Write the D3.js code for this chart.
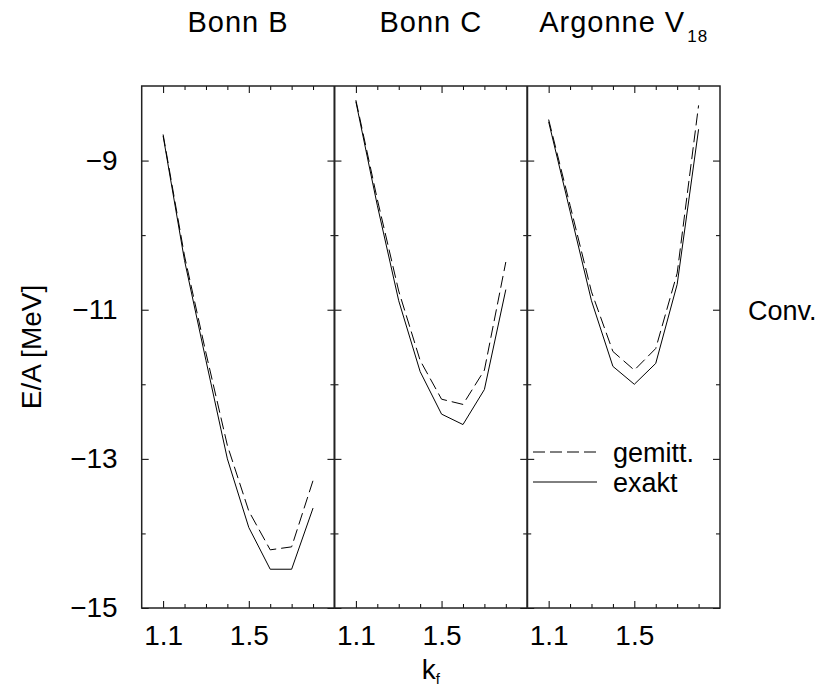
<!DOCTYPE html>
<meta charset="utf-8">
<style>
body { margin: 0; background: #fff; }
svg text { font-family: "Liberation Sans", Arial, Helvetica, sans-serif; fill: #000; }
.axis text { font-size: 28px; }
.axis line { stroke: #000; stroke-width: 1; }
.curve { fill: none; stroke: #000; stroke-width: 1; }
</style>
<svg width="817" height="688"></svg>
<script src="https://d3js.org/d3.v7.min.js"></script>
<script>
// k_f grid
const kf = [1.1, 1.2, 1.3, 1.4, 1.5, 1.6, 1.7, 1.8];

// E/A [MeV], exakt (solid) and gemitt. (dashed) for each potential
const bonnB_exakt  = [-8.67, -10.34, -11.68, -13.00, -13.92, -14.48, -14.48, -13.66];
const bonnB_gemitt = [-8.65, -10.28, -11.58, -12.82, -13.70, -14.22, -14.18, -13.29];
const bonnC_exakt  = [-8.21, -9.60, -10.88, -11.83, -12.40, -12.54, -12.07, -10.73];
const bonnC_gemitt = [-8.19, -9.52, -10.75, -11.68, -12.20, -12.27, -11.81, -10.36];
const av18_exakt   = [-8.48, -9.68, -10.88, -11.76, -12.00, -11.72, -10.66, -8.58];
const av18_gemitt  = [-8.45, -9.60, -10.76, -11.56, -11.81, -11.52, -10.51, -8.26];

const panelNames = ["Bonn B", "Bonn C", "Argonne V"];
const panelSubs  = ["", "", "18"];
const exakt  = [bonnB_exakt, bonnC_exakt, av18_exakt];
const gemitt = [bonnB_gemitt, bonnC_gemitt, av18_gemitt];

const xMajor = [1.1, 1.5];
const xMinor = [1.2, 1.3, 1.4, 1.6, 1.7, 1.8];
const yMajor = [-9, -11, -13, -15];
const yMinor = [-10, -12, -14];

const svg = d3.select("svg");
const mLeft = 141.7, mRight = 720, mTop = 86, mBottom = 608;
const pw = (mRight - mLeft) / 3;
const dash = "12,5";

const y = d3.scaleLinear().domain([-15, -8]).range([mBottom, mTop]);

for (let p = 0; p < 3; p++) {
  const x0 = mLeft + p * pw;
  const x = d3.scaleLinear().domain([1.0, 1.9]).range([x0, x0 + pw]);
  const g = svg.append("g");

  // bottom ticks + labels
  g.append("g").attr("class", "axis").attr("transform", "translate(0," + mBottom + ")")
    .call(d3.axisBottom(x).tickValues(xMajor).tickSizeInner(-7).tickSizeOuter(0).tickPadding(17).tickFormat(d3.format(".1f")));
  g.append("g").attr("class", "axis").attr("transform", "translate(0," + mBottom + ")")
    .call(d3.axisBottom(x).tickValues(xMinor).tickSizeInner(-4).tickSizeOuter(0).tickFormat(""));
  // top ticks
  g.append("g").attr("class", "axis").attr("transform", "translate(0," + mTop + ")")
    .call(d3.axisTop(x).tickValues(xMajor).tickSizeInner(-7).tickSizeOuter(0).tickFormat(""));
  g.append("g").attr("class", "axis").attr("transform", "translate(0," + mTop + ")")
    .call(d3.axisTop(x).tickValues(xMinor).tickSizeInner(-4).tickSizeOuter(0).tickFormat(""));

  // left ticks (labels only on first panel)
  g.append("g").attr("class", "axis").attr("transform", "translate(" + x0 + ",0)")
    .call(d3.axisLeft(y).tickValues(yMajor).tickSizeInner(-7).tickSizeOuter(0).tickPadding(24)
      .tickFormat(p === 0 ? d3.format("d") : ""));
  g.append("g").attr("class", "axis").attr("transform", "translate(" + x0 + ",0)")
    .call(d3.axisLeft(y).tickValues(yMinor).tickSizeInner(-4).tickSizeOuter(0).tickFormat(""));
  // right ticks
  g.append("g").attr("class", "axis").attr("transform", "translate(" + (x0 + pw) + ",0)")
    .call(d3.axisRight(y).tickValues(yMajor).tickSizeInner(-7).tickSizeOuter(0).tickFormat(""));
  g.append("g").attr("class", "axis").attr("transform", "translate(" + (x0 + pw) + ",0)")
    .call(d3.axisRight(y).tickValues(yMinor).tickSizeInner(-4).tickSizeOuter(0).tickFormat(""));

  g.selectAll(".domain").remove();

  const line = d3.line().x((d, i) => x(kf[i])).y(d => y(d));
  g.append("path").attr("class", "curve").attr("stroke-dasharray", dash).attr("d", line(gemitt[p]));
  g.append("path").attr("class", "curve").attr("d", line(exakt[p]));

  // panel title
  const t = svg.append("text").attr("x", x0 + pw / 2).attr("y", 32)
    .attr("text-anchor", "middle").attr("font-size", 29).attr("letter-spacing", 1).text(panelNames[p]);
  if (panelSubs[p]) {
    t.append("tspan").attr("font-size", 17).attr("dy", 10).attr("dx", 2).text(panelSubs[p]);
  }
}

// frame
svg.append("rect").attr("x", mLeft).attr("y", mTop).attr("width", mRight - mLeft).attr("height", mBottom - mTop)
  .attr("fill", "none").attr("stroke", "#222").attr("stroke-width", 1.5);
for (let p = 1; p < 3; p++) {
  svg.append("line").attr("x1", mLeft + p * pw).attr("x2", mLeft + p * pw).attr("y1", mTop).attr("y2", mBottom)
    .attr("stroke", "#222").attr("stroke-width", 2);
}

// legend
const legendItems = [{label: "gemitt.", dash: dash, y: 452}, {label: "exakt", dash: null, y: 482}];
legendItems.forEach(d => {
  svg.append("line").attr("x1", 533).attr("x2", 597).attr("y1", d.y).attr("y2", d.y)
    .attr("stroke", "#000").attr("stroke-width", 1).attr("stroke-dasharray", d.dash);
  svg.append("text").attr("x", 613).attr("y", d.y + 9.5).attr("font-size", 27).text(d.label);
});

// axis titles
svg.append("text").attr("transform", "translate(41," + (mTop + mBottom) / 2 + ") rotate(-90)")
  .attr("text-anchor", "middle").attr("font-size", 28).text("E/A [MeV]");
const kl = svg.append("text").attr("x", mLeft + 1.5 * pw).attr("y", 679)
  .attr("text-anchor", "middle").attr("font-size", 28).text("k");
kl.append("tspan").attr("font-size", 15).attr("dy", 5).text("f");

svg.append("text").attr("x", 748).attr("y", 320).attr("font-size", 27).text("Conv.");
</script>
